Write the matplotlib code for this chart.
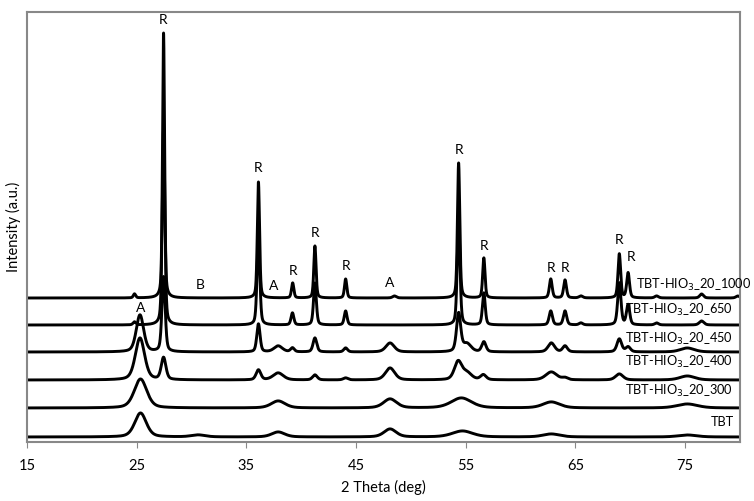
import matplotlib.pyplot as plt
import numpy as np

# XRD patterns: (2theta, height, fwhm) per peak,
# heights in the chart's arbitrary intensity units
series_names = ["TBT", "TBT-HIO$_3$_20_300", "TBT-HIO$_3$_20_400",
                "TBT-HIO$_3$_20_450", "TBT-HIO$_3$_20_650", "TBT-HIO$_3$_20_1000"]
baselines = [5, 34, 62, 90, 117, 144]

pk_tbt = [(25.35, 24, 1.25), (30.6, 2, 1.5), (37.9, 5, 1.4), (48.1, 8, 1.3),
          (54.7, 6, 2.2), (62.8, 3, 1.8), (75.2, 2, 2.0)]
pk_300 = [(25.35, 29, 1.35), (37.9, 7, 1.5), (48.1, 9, 1.4), (54.6, 10, 2.2),
          (62.8, 6, 1.8), (75.2, 4, 2.2)]
pk_400 = [(25.3, 42, 1.0), (27.45, 22, 0.5), (36.1, 10, 0.5), (37.9, 7, 1.1),
          (41.25, 5, 0.5), (44.05, 2, 0.5), (48.1, 12, 1.0), (54.3, 18, 0.8),
          (55.1, 7, 1.0), (56.6, 5, 0.6), (62.8, 8, 1.2), (64.05, 2, 0.6),
          (69.0, 6, 0.8), (75.2, 4, 1.6)]
pk_450 = [(25.3, 37, 0.8), (27.45, 75, 0.35), (36.1, 28, 0.35), (37.9, 6, 0.9),
          (39.2, 4, 0.4), (41.25, 14, 0.4), (44.05, 4, 0.4), (48.1, 9, 0.9),
          (54.35, 38, 0.45), (55.1, 8, 0.9), (56.65, 10, 0.45), (62.8, 9, 0.7),
          (64.05, 6, 0.5), (69.0, 13, 0.5), (69.8, 5, 0.5), (75.2, 4, 1.5)]
pk_650 = [(24.8, 3, 0.3), (27.45, 195, 0.28), (36.1, 88, 0.3), (39.2, 12, 0.3),
          (41.25, 42, 0.3), (44.05, 14, 0.3), (54.35, 105, 0.3), (56.65, 32, 0.3),
          (62.75, 14, 0.35), (64.05, 14, 0.35), (65.5, 2, 0.4), (69.0, 42, 0.35),
          (69.8, 20, 0.35), (72.4, 2, 0.4), (76.5, 4, 0.5)]
pk_1000 = [(24.8, 4, 0.25), (27.45, 265, 0.22), (36.1, 116, 0.24), (39.22, 15, 0.25),
           (41.25, 52, 0.24), (44.05, 19, 0.25), (48.5, 2, 0.4), (54.35, 135, 0.25),
           (56.65, 40, 0.25), (62.75, 19, 0.3), (64.05, 18, 0.3), (65.5, 2, 0.4),
           (69.0, 44, 0.28), (69.8, 25, 0.3), (72.4, 2, 0.4), (76.5, 4, 0.4),
           (79.8, 2, 0.4)]
all_peaks = [pk_tbt, pk_300, pk_400, pk_450, pk_650, pk_1000]

# series labels: (2theta, y, alignment)
label_pos = [(79.4, 20, "right"), (79.4, 51, "right"), (79.4, 80, "right"),
             (79.4, 103, "right"), (79.4, 132, "right"), (70.5, 157, "left")]

# phase marks: (2theta, y, text)
marks = [(27.45, 422, "R"), (36.1, 274, "R"), (39.25, 171, "R"), (41.25, 209, "R"),
         (44.05, 176, "R"), (54.35, 292, "R"), (56.65, 196, "R"), (62.75, 174, "R"),
         (64.05, 174, "R"), (69.0, 202, "R"), (70.1, 185, "R"),
         (30.8, 157, "B"), (37.5, 156, "A"), (48.1, 159, "A"), (25.35, 134, "A")]

x = np.arange(15, 80.001, 0.01)


def pattern(peaks, base):
    y = np.full_like(x, base, dtype=float)
    for c, h, w in peaks:
        g = np.exp(-4 * np.log(2) * ((x - c) / w) ** 2)
        lor = 1 / (1 + 4 * ((x - c) / w) ** 2)
        y += h * (0.6 * g + 0.4 * lor)
    return y


fonts = ["Lato", "DejaVu Sans"]
plt.rcParams["font.family"] = fonts

fig = plt.figure(figsize=(7.54, 5.01), dpi=100)
ax = fig.add_axes([0.0358, 0.1178, 0.9456, 0.8582])

for peaks, base in zip(all_peaks, baselines):
    ax.plot(x, pattern(peaks, base), color="black", lw=2.1)

for (lx, ly, ha), name in zip(label_pos, series_names):
    ax.text(lx, ly, name, ha=ha, va="center", fontsize=9.2, family=fonts)

for mx, my, t in marks:
    ax.text(mx, my, t, ha="center", va="center", fontsize=10, family=fonts)

ax.set_xlim(15, 80)
ax.set_ylim(0, 430)
ax.set_xticks(np.arange(15, 80, 10))
ax.set_yticks([])
ax.tick_params(axis="x", direction="out", length=4, color="#888888", labelsize=10.5, pad=8)
for s in ax.spines.values():
    s.set_color("#888888")
    s.set_linewidth(1.5)
ax.set_xlabel("2 Theta (deg)", fontsize=10.5, family=fonts, labelpad=5)
ax.set_ylabel("Intensity (a.u.)", fontsize=10.5, family=fonts, labelpad=4)

fig.savefig("out.png", dpi=100)
